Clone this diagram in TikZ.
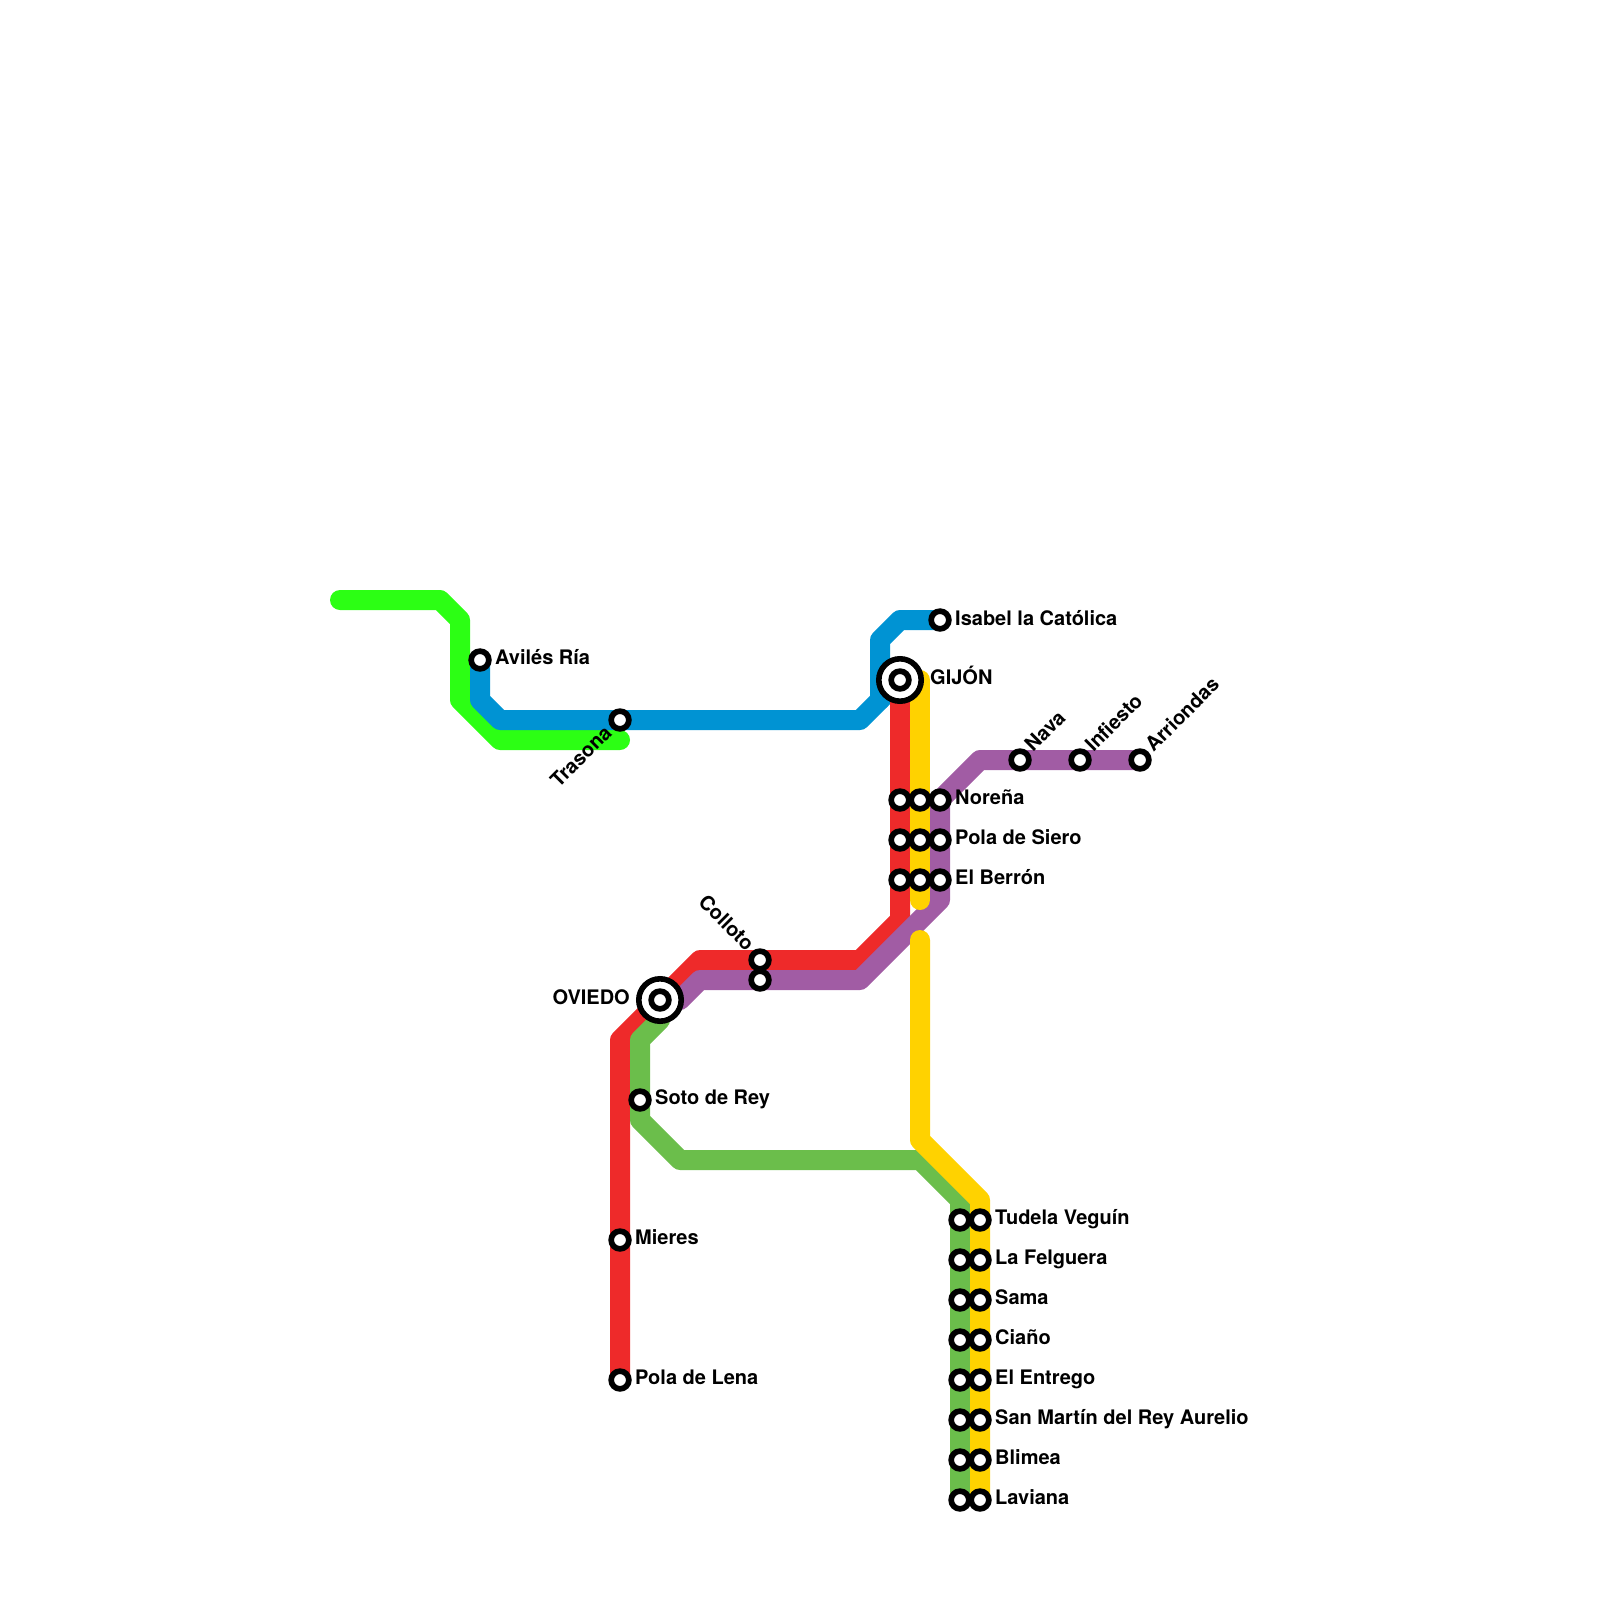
\documentclass[tikz,border=0pt]{standalone}
\usepackage{fontspec}
\setmainfont{TeX Gyre Heros}
\pgfdeclarelayer{lines}
\pgfsetlayers{lines,main}
\definecolor{cgreen}{HTML}{2CFF14}
\definecolor{cblue}{HTML}{0093D3}
\definecolor{cred}{HTML}{EE2A2A}
\definecolor{cpurple}{HTML}{A15CA4}
\definecolor{colive}{HTML}{6BBE4B}
\definecolor{cyellow}{HTML}{FFD200}
\tikzset{
  metro/.style={line width=20pt,line cap=round,line join=round},
  stop/.style={circle,draw=black,fill=white,line width=5.7pt,inner sep=0pt,minimum size=17.7pt},
  hub/.style={circle,draw=black,fill=white,line width=5.6pt,inner sep=0pt,minimum size=42.4pt},
  lab/.style={font=\fontsize{20pt}{22pt}\selectfont\bfseries,inner sep=0pt,text=black},
  labr/.style={lab,anchor=base west},
  labl/.style={lab,anchor=base east},
  labup/.style={lab,anchor=base west,rotate=45},
  labupl/.style={lab,anchor=base east,rotate=45},
  labdn/.style={lab,anchor=base east,rotate=-45},
}
\begin{document}
\begin{tikzpicture}[x=1pt,y=-1pt]
\useasboundingbox (0,0) rectangle (1600,1600);
% hubs
\node[hub] (gijonring) at (900,680) {};
\node[hub] (oviedoring) at (660,1000) {};
\node[stop] (gijon) at (900,680) {};
\node[stop] (oviedo) at (660,1000) {};
% stations
\node[stop] (aviles) at (480,660) {};
\node[stop] (trasona) at (620,720) {};
\node[stop] (isabel) at (940,620) {};
\node[stop] (nava) at (1020,760) {};
\node[stop] (infiesto) at (1080,760) {};
\node[stop] (arriondas) at (1140,760) {};
\node[stop] (norR) at (900,800) {};
\node[stop] (norY) at (920,800) {};
\node[stop] (norP) at (940,800) {};
\node[stop] (polR) at (900,840) {};
\node[stop] (polY) at (920,840) {};
\node[stop] (polP) at (940,840) {};
\node[stop] (berR) at (900,880) {};
\node[stop] (berY) at (920,880) {};
\node[stop] (berP) at (940,880) {};
\node[stop] (colR) at (760,960) {};
\node[stop] (colP) at (760,980) {};
\node[stop] (soto) at (640,1100) {};
\node[stop] (mieres) at (620,1240) {};
\node[stop] (lena) at (620,1380) {};
\foreach \n/\y in {tud/1220,fel/1260,sam/1300,cia/1340,ent/1380,mar/1420,bli/1460,lav/1500}{
  \node[stop] (\n G) at (960,\y) {};
  \node[stop] (\n Y) at (980,\y) {};
}
% free ends and bends
\coordinate (gstart) at (340,600);
\coordinate (gend) at (620,740);
\coordinate (yA) at (920,680);
\coordinate (yB) at (920,900);
\coordinate (yC) at (920,940);
\begin{pgfonlayer}{lines}
\draw[metro,cgreen] (gstart) -- (440,600) -- (460,620) -- (460,700) -- (500,740) -- (gend);
\draw[metro,cblue] (aviles.center) -- (480,700) -- (500,720) -- (860,720) -- (880,700) -- (880,640) -- (900,620) -- (isabel.center);
\draw[metro,cblue] (880,700) -- (gijon.center);
\draw[metro,cred] (gijon.center) -- (900,920) -- (860,960) -- (700,960) -- (620,1040) -- (lena.center);
\draw[metro,cpurple] (arriondas.center) -- (980,760) -- (940,800) -- (940,900) -- (860,980) -- (700,980) -- (680,1000) -- (oviedo.center);
\draw[metro,colive] (oviedo.center) -- (660,1020) -- (640,1040) -- (640,1120) -- (680,1160) -- (920,1160) -- (960,1200) -- (lavG.center);
\draw[metro,cyellow] (gijon.center) -- (yA) -- (yB);
\draw[metro,cyellow] (yC) -- (920,1140) -- (980,1200) -- (lavY.center);
\end{pgfonlayer}
% labels
\node[labr] (tA) at (495,664.8) {Avilés Ría};
\node[labupl] (tB) at (613,734) {Trasona};
\node[labr] (tC) at (955,625) {Isabel la Católica};
\node[labr] (tD) at (930,684.8) {GIJÓN};
\node[labr] (tE) at (955,804.8) {Noreña};
\node[labr] (tF) at (955,844.8) {Pola de Siero};
\node[labr] (tG) at (955,884.8) {El Berrón};
\node[labup] (tH) at (1033,753) {Nava};
\node[labup] (tI) at (1093.5,753) {Infiesto};
\node[labup] (tJ) at (1153.5,753) {Arriondas};
\node[labdn] (tK) at (746,952) {Colloto};
\node[labl] (tL) at (630,1004.8) {OVIEDO};
\node[labr] (tM) at (655,1104.8) {Soto de Rey};
\node[labr] (tN) at (635,1244.8) {Mieres};
\node[labr] (tO) at (635,1384.8) {Pola de Lena};
\node[labr] (tP) at (995,1224.8) {Tudela Veguín};
\node[labr] (tQ) at (995,1264.8) {La Felguera};
\node[labr] (tR) at (995,1304.8) {Sama};
\node[labr] (tS) at (995,1344.8) {Ciaño};
\node[labr] (tT) at (995,1384.8) {El Entrego};
\node[labr] (tU) at (995,1424.8) {San Martín del Rey Aurelio};
\node[labr] (tV) at (995,1464.8) {Blimea};
\node[labr] (tW) at (995,1504.8) {Laviana};
\end{tikzpicture}
\end{document}
